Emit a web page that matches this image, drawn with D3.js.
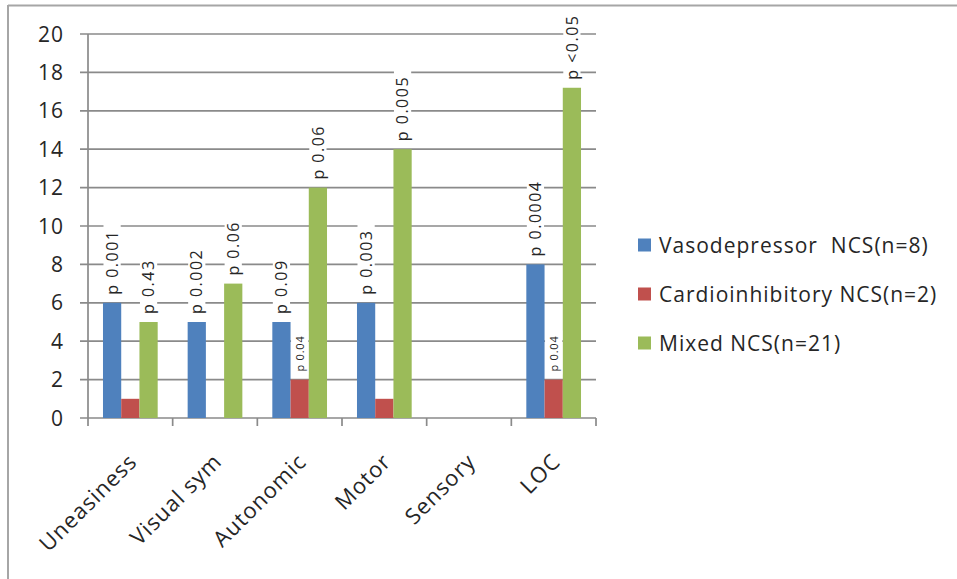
<!DOCTYPE html>
<html>
<head>
<meta charset="utf-8">
<script src="https://cdn.jsdelivr.net/npm/d3@7"></script>
<style>
  html, body { margin: 0; padding: 0; background: #fff; }
  svg { display: block; }
  text { font-family: "Open Sans", "Liberation Sans", Arial, sans-serif; fill: #262626; }
</style>
</head>
<body>
<svg id="chart" width="957" height="579"></svg>
<script>
// ---- data ----
const categories = ["Uneasiness", "Visual sym", "Autonomic", "Motor", "Sensory", "LOC"];
const seriesNames = ["Vasodepressor  NCS(n=8)", "Cardioinhibitory NCS(n=2)", "Mixed NCS(n=21)"];
const vasodepressor = [6, 5, 5, 6, 0, 8];
const cardioinhibitory = [1, 0, 2, 1, 0, 2];
const mixed = [5, 7, 12, 14, 0, 17.2];
const pVaso = ["p 0.001", "p 0.002", "p 0.09", "p 0.003", "", "p 0.0004"];
const pCardio = ["", "", "p 0.04", "", "", "p 0.04"];
const pMixed = ["p 0.43", "p 0.06", "p 0.06", "p 0.005", "", "p <0.05"];
const yTicks = [0, 2, 4, 6, 8, 10, 12, 14, 16, 18, 20];
const colors = ["#4F81BD", "#C0504D", "#9BBB59"];

const seriesValues = [vasodepressor, cardioinhibitory, mixed];
const seriesLabels = [pVaso, pCardio, pMixed];

const svg = d3.select("#chart");

// outer frame
svg.append("line").attr("x1", 8).attr("x2", 957).attr("y1", 5.5).attr("y2", 5.5)
  .attr("stroke", "#a6a6a6").attr("stroke-width", 2);
svg.append("line").attr("x1", 8).attr("x2", 8).attr("y1", 5).attr("y2", 579)
  .attr("stroke", "#a6a6a6").attr("stroke-width", 2);

const plotLeft = 88, plotRight = 596, plotTop = 34, plotBottom = 418;

const y = d3.scaleLinear().domain([0, 20]).range([plotBottom, plotTop]);
const x0 = d3.scaleBand().domain(categories).range([plotLeft, plotRight]).padding(0);
const x1 = d3.scaleBand().domain(d3.range(seriesValues.length))
  .range([x0.bandwidth() * 0.177, x0.bandwidth() * 0.823]).padding(0);

// gridlines (incl. tick stubs on the left)
svg.append("g").selectAll("line").data(yTicks).join("line")
  .attr("x1", plotLeft - 8).attr("x2", plotRight)
  .attr("y1", d => y(d)).attr("y2", d => y(d))
  .attr("stroke", "#8a8a8a").attr("stroke-width", 1.7);

// y axis line
svg.append("line").attr("x1", plotLeft).attr("x2", plotLeft)
  .attr("y1", y(20)).attr("y2", y(0)).attr("stroke", "#8a8a8a").attr("stroke-width", 1.7);

// y tick labels
svg.append("g").selectAll("text").data(yTicks).join("text")
  .attr("x", 64).attr("y", d => y(d))
  .attr("dy", "0.36em")
  .attr("text-anchor", "end")
  .style("font-size", "21px").style("letter-spacing", "1px")
  .text(d => d);

// x ticks at band boundaries
const boundaries = categories.map(c => x0(c)).concat([plotRight]);
svg.append("g").selectAll("line").data(boundaries).join("line")
  .attr("x1", d => d).attr("x2", d => d)
  .attr("y1", plotBottom).attr("y2", plotBottom + 8)
  .attr("stroke", "#8a8a8a").attr("stroke-width", 1.7);

// bars
const groups = svg.append("g").selectAll("g").data(categories).join("g")
  .attr("transform", c => `translate(${x0(c)},0)`);

groups.selectAll("rect").data((c, i) => seriesValues.map((s, k) => ({k, v: s[i]})))
  .join("rect")
  .attr("x", d => x1(d.k))
  .attr("width", x1.bandwidth())
  .attr("y", d => y(d.v))
  .attr("height", d => y(0) - y(d.v))
  .attr("fill", d => colors[d.k]);

// p-value labels (rotated, with white background)
const labelData = [];
categories.forEach((c, i) => {
  seriesValues.forEach((s, k) => {
    const t = seriesLabels[k][i];
    if (t) labelData.push({c, k, v: s[i], t, small: k === 1});
  });
});

const labG = svg.append("g");
labelData.forEach(d => {
  const cx = x0(d.c) + x1(d.k) + x1.bandwidth() / 2;
  const baseY = y(d.v) - 8;
  const g = labG.append("g").attr("transform", `translate(${cx},${baseY}) rotate(-90)`);
  const rect = g.append("rect").attr("fill", "#fff");
  const txt = g.append("text")
    .attr("x", 0).attr("y", 0)
    .attr("dy", "0.35em")
    .attr("text-anchor", "start")
    .style("font-size", d.small ? "11px" : "16px")
    .style("letter-spacing", d.small ? "0.8px" : "1.5px")
    .text(d.t);
  const bb = txt.node().getBBox();
  const halfW = x1.bandwidth() / 2;
  rect.attr("x", bb.x - 3).attr("width", bb.width + 8)
    .attr("y", -halfW + 0.5).attr("height", x1.bandwidth() - 1);
});

// category labels
svg.append("g").selectAll("text").data(categories).join("text")
  .attr("transform", c => `translate(${x0(c) + x0.bandwidth() / 2 + 8},${plotBottom + 45}) rotate(-45)`)
  .attr("text-anchor", "end")
  .style("font-size", "22px").style("letter-spacing", "1px")
  .text(c => c);

// legend
const legendY = [245, 294, 343];
const leg = svg.append("g").selectAll("g").data(seriesNames).join("g")
  .attr("transform", (d, i) => `translate(638,${legendY[i]})`);
leg.append("rect").attr("x", 0).attr("y", -6.5).attr("width", 13).attr("height", 13)
  .attr("fill", (d, i) => colors[i]);
leg.append("text").attr("x", 21).attr("y", 0).attr("dy", "0.36em")
  .style("font-size", "21px").style("letter-spacing", "1px").style("white-space", "pre")
  .attr("xml:space", "preserve")
  .text(d => d);
</script>
</body>
</html>
